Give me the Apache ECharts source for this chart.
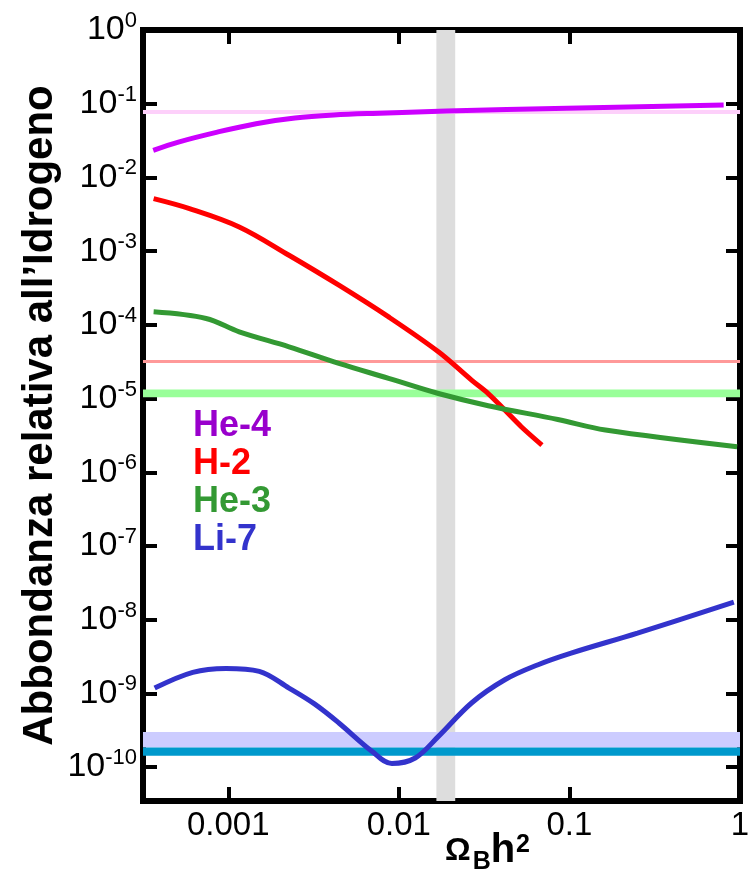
<!DOCTYPE html>
<html>
<head>
<meta charset="utf-8">
<script src="https://cdn.jsdelivr.net/npm/echarts@6/dist/echarts.min.js"></script>
<style>
  html, body { margin: 0; padding: 0; background: #ffffff; }
  #chart { width: 752px; height: 877px; }
</style>
</head>
<body>
<div id="chart"></div>
<script>
const FONT = '"Liberation Sans", Arial, Helvetica, sans-serif';

// Predicted abundances (relative to hydrogen) against Omega_B h^2
const he4Omega = [3.63e-4, 5.1e-4, 8.63e-4, 1.455e-3, 2.46e-3, 4.16e-3, 7.02e-3, 0.019, 0.0966, 0.802];
const he4Abund = [0.0233, 0.0302, 0.0412, 0.0536, 0.0638, 0.0702, 0.0739, 0.0794, 0.0871, 0.0957];

const h2Omega = [3.65e-4, 5.92e-4, 1.159e-3, 2.27e-3, 4.45e-3, 8.71e-3, 0.01706, 0.02667, 0.0334, 0.0418, 0.0522, 0.069];
const h2Abund = [5.16e-3, 3.78e-3, 2.13e-3, 8.79e-4, 3.45e-4, 1.28e-4, 4.31e-5, 1.78e-5, 1.17e-5, 6.98e-6, 4.15e-6, 2.34e-6];

const he3Omega = [3.65e-4, 7.41e-4, 1.159e-3, 2.27e-3, 4.45e-3, 8.71e-3, 0.01706, 0.0334, 0.0855, 0.1626, 0.962];
const he3Abund = [1.50e-4, 1.22e-4, 8.04e-5, 5.04e-5, 3.0e-5, 1.88e-5, 1.17e-5, 8.0e-6, 5.2e-6, 3.74e-6, 2.22e-6];

const li7Omega = [3.70e-4, 6.19e-4, 9.70e-4, 1.52e-3, 2.27e-3, 3.2e-3, 4.45e-3, 6.95e-3, 9.10e-3, 0.01247, 0.01706, 0.02667, 0.0418, 0.0655, 0.1023, 0.2506, 0.920];
const li7Abund = [1.18e-9, 1.93e-9, 2.18e-9, 1.99e-9, 1.18e-9, 7.2e-10, 3.97e-10, 1.64e-10, 1.12e-10, 1.33e-10, 2.61e-10, 7.41e-10, 1.53e-9, 2.45e-9, 3.52e-9, 6.58e-9, 1.73e-8];

const speciesNames = ['He-4', 'H-2', 'He-3', 'Li-7'];
const lineColors = ['#cc00ff', '#ff0000', '#339933', '#3333cc'];
const labelColors = ['#9900cc', '#ff0000', '#339933', '#3333cc'];

// Observed values and allowed ranges
const he4Observed = 0.077;
const h2Observed = 3.25e-5;
const he3Range = [1.04e-5, 1.33e-5];
const li7Range = [1.84e-10, 3.0e-10];
const li7Best = [1.43e-10, 1.84e-10];
const omegaRange = [0.0166, 0.0214];

// Both axes work in decades (log10 of the value); extents and tick labels
const xMinDecade = -3.5;
const xMaxDecade = 0;
const yMinDecade = -10.46;
const yMaxDecade = 0;
const xTickValues = [0.001, 0.01, 0.1, 1];
const xTickLabels = ['0.001', '0.01', '0.1', '1'];
const yTickExponents = ['0', '-1', '-2', '-3', '-4', '-5', '-6', '-7', '-8', '-9', '-10'];

const dec = v => Math.log10(v);
function pairs(xs, ys) { return xs.map((x, i) => [dec(x), dec(ys[i])]); }

function xLabel(v) {
  const i = xTickValues.findIndex(t => Math.abs(dec(t) - v) < 1e-6);
  return i < 0 ? '' : xTickLabels[i];
}
function yLabel(v) {
  const e = Math.round(v);
  if (Math.abs(v - e) > 1e-6) return '';
  const s = yTickExponents[-e];
  return s === undefined ? '' : '{b|10}{s|' + s + '}';
}

// Thick black frame with ticks pointing into the plot
const frameLine = () => ({ show: true, onZero: false, lineStyle: { color: '#000', width: 6, cap: 'square' } });
const innerTick = () => ({ show: true, inside: true, length: 14, lineStyle: { color: '#000', width: 4 } });

const chart = echarts.init(document.getElementById('chart'), null, { renderer: 'canvas' });

const curveSeries = [
  [he4Omega, he4Abund], [h2Omega, h2Abund], [he3Omega, he3Abund], [li7Omega, li7Abund]
].map((d, i) => ({
  name: speciesNames[i],
  type: 'line',
  xAxisIndex: 0,
  yAxisIndex: 0,
  data: pairs(d[0], d[1]),
  smooth: 0.35,
  symbol: 'none',
  z: 5,
  lineStyle: { color: lineColors[i], width: 5, cap: 'butt' },
  itemStyle: { color: labelColors[i] }
}));

const xAxisBase = () => ({
  type: 'value', min: xMinDecade, max: xMaxDecade, splitNumber: 4,
  axisLine: frameLine(), axisTick: innerTick(), splitLine: { show: false }
});
const yAxisBase = () => ({
  type: 'value', min: yMinDecade, max: yMaxDecade, splitNumber: 10,
  axisLine: frameLine(), axisTick: innerTick(), splitLine: { show: false }
});

chart.setOption({
  animation: false,
  backgroundColor: '#ffffff',
  grid: { left: 143, top: 30, right: 12, bottom: 76, containLabel: false, outerBoundsMode: 'none' },
  legend: {
    orient: 'vertical',
    left: 188,
    top: 407,
    padding: 0,
    icon: 'none',
    itemWidth: 0,
    itemHeight: 38,
    itemGap: 0,
    selectedMode: false,
    data: speciesNames.map((n, i) => ({ name: n, textStyle: { color: labelColors[i] } })),
    textStyle: { fontSize: 36, fontWeight: 'bold', fontFamily: FONT, lineHeight: 38 }
  },
  xAxis: [
    Object.assign(xAxisBase(), {
      position: 'bottom',
      axisLabel: { formatter: xLabel, fontSize: 33, color: '#000', fontFamily: FONT, margin: 8, showMinLabel: true, showMaxLabel: true },
      name: '{o|Ω}{sub|B}{h|h}{sup|2}',
      nameLocation: 'middle',
      nameGap: 28,
      nameMoveOverlap: false,
      nameTextStyle: {
        fontSize: 38, fontWeight: 'bold', fontFamily: FONT, color: '#000',
        padding: [0, 0, 0, 92],
        rich: {
          o: { fontSize: 32, fontWeight: 'bold', fontFamily: FONT, color: '#000', lineHeight: 44 },
          sub: { fontSize: 25, fontWeight: 'bold', fontFamily: FONT, color: '#000', lineHeight: 44, padding: [22, 0, 0, 2] },
          h: { fontSize: 40, fontWeight: 'bold', fontFamily: FONT, color: '#000', lineHeight: 44 },
          sup: { fontSize: 25, fontWeight: 'bold', fontFamily: FONT, color: '#000', lineHeight: 44, padding: [0, 0, 12, 1] }
        }
      }
    }),
    Object.assign(xAxisBase(), { position: 'top', axisLabel: { show: false } })
  ],
  yAxis: [
    Object.assign(yAxisBase(), {
      position: 'left',
      axisLabel: {
        formatter: yLabel, margin: 6, showMinLabel: true, showMaxLabel: true,
        fontSize: 34, fontFamily: FONT, color: '#000',
        rich: {
          b: { fontSize: 34, fontFamily: FONT, color: '#000', lineHeight: 36 },
          s: { fontSize: 22, fontFamily: FONT, color: '#000', lineHeight: 22, padding: [0, 0, 18, 0] }
        }
      },
      name: 'Abbondanza relativa all’Idrogeno',
      nameLocation: 'middle',
      nameRotate: 90,
      nameGap: 82,
      nameMoveOverlap: false,
      nameTextStyle: { fontSize: 42, fontWeight: 'bold', fontFamily: FONT, color: '#000' }
    }),
    Object.assign(yAxisBase(), { position: 'right', axisLabel: { show: false } })
  ],
  series: [
    {
      name: 'omega-range', type: 'line', data: [], z: 1, silent: true,
      markArea: {
        silent: true, z: 1,
        itemStyle: { color: '#dddddd' },
        data: [[{ xAxis: dec(omegaRange[0]) }, { xAxis: dec(omegaRange[1]) }]]
      }
    },
    {
      name: 'observed-bands', type: 'line', data: [], z: 2, silent: true,
      markArea: {
        silent: true, z: 2,
        data: [
          [{ yAxis: dec(he3Range[0]), itemStyle: { color: '#99ff99' } }, { yAxis: dec(he3Range[1]) }],
          [{ yAxis: dec(li7Range[0]), itemStyle: { color: '#ccccff' } }, { yAxis: dec(li7Range[1]) }],
          [{ yAxis: dec(li7Best[0]), itemStyle: { color: '#0099cc' } }, { yAxis: dec(li7Best[1]) }]
        ]
      }
    },
    {
      name: 'observed-lines', type: 'line', data: [], z: 2, silent: true,
      markLine: {
        silent: true, z: 2, symbol: ['none', 'none'], label: { show: false },
        data: [
          { yAxis: dec(he4Observed), lineStyle: { color: '#fdd0fa', width: 4, type: 'solid' } },
          { yAxis: dec(h2Observed), lineStyle: { color: '#ff9999', width: 3, type: 'solid' } }
        ]
      }
    }
  ].concat(curveSeries)
});
</script>
</body>
</html>
